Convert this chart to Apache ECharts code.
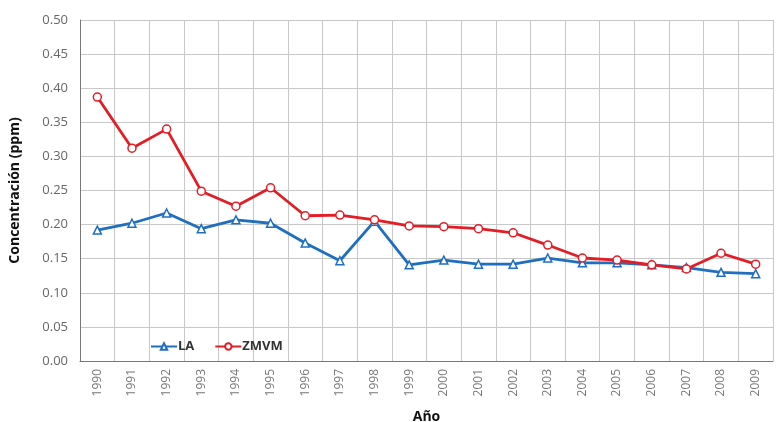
<!DOCTYPE html>
<html>
<head>
<meta charset="utf-8">
<script src="https://cdn.jsdelivr.net/npm/echarts@6/dist/echarts.min.js"></script>
<style>
  html, body { margin: 0; padding: 0; background: #fff; }
  #chart { width: 778px; height: 422px; }
</style>
</head>
<body>
<div id="chart"></div>
<script>
// datos
const years = ["1990", "1991", "1992", "1993", "1994", "1995", "1996", "1997", "1998", "1999",
  "2000", "2001", "2002", "2003", "2004", "2005", "2006", "2007", "2008", "2009"];
const la = [0.192, 0.202, 0.217, 0.194, 0.207, 0.202, 0.173, 0.147, 0.205, 0.141,
  0.148, 0.142, 0.142, 0.151, 0.144, 0.144, 0.141, 0.137, 0.130, 0.128];
const zmvm = [0.387, 0.312, 0.340, 0.249, 0.227, 0.254, 0.213, 0.214, 0.207, 0.198,
  0.197, 0.194, 0.188, 0.170, 0.151, 0.148, 0.141, 0.135, 0.158, 0.142];

const blue = "#1f6fc0";
const red = "#e41c24";
const gridColor = "#c8c8c8";

const chart = echarts.init(document.getElementById("chart"));

chart.setOption({
  animation: false,
  grid: { left: 80, right: 5, top: 20, bottom: 61, outerBoundsMode: "none" },
  legend: {
    left: 145,
    top: 335,
    itemGap: 20,
    itemWidth: 26,
    itemHeight: 8,
    textStyle: { fontFamily: "Open Sans", fontSize: 13, fontWeight: "bold", color: "#333", padding: [0, 0, 0, -4] },
    data: ["LA", "ZMVM"]
  },
  xAxis: {
    type: "category",
    data: years,
    boundaryGap: true,
    name: "Año",
    nameLocation: "middle",
    nameGap: 49,
    nameTextStyle: { fontFamily: "Open Sans", fontSize: 14, fontWeight: "bold", color: "#111" },
    axisLine: { lineStyle: { color: "#777", width: 1 } },
    axisTick: { show: false },
    axisLabel: {
      rotate: 90,
      margin: 8,
      fontFamily: "Open Sans",
      fontSize: 12,
      color: "#777"
    },
    splitLine: { show: true, lineStyle: { color: gridColor, width: 1 } }
  },
  yAxis: {
    type: "value",
    min: 0,
    max: 0.5,
    interval: 0.05,
    name: "Concentración (ppm)",
    nameLocation: "middle",
    nameGap: 58,
    nameTextStyle: { fontFamily: "Open Sans", fontSize: 14, fontWeight: "bold", color: "#111" },
    axisLine: { show: true, lineStyle: { color: "#777", width: 1 } },
    axisTick: { show: false },
    axisLabel: {
      margin: 12,
      fontFamily: "Open Sans",
      fontSize: 13,
      color: "#666",
      formatter: v => v.toFixed(2)
    },
    splitLine: { show: true, lineStyle: { color: gridColor, width: 1 } }
  },
  series: [
    {
      name: "LA",
      type: "line",
      data: la,
      symbol: "triangle",
      symbolSize: 8,
      lineStyle: { color: blue, width: 2.8 },
      itemStyle: { color: "#fff", borderColor: blue, borderWidth: 1.5 }
    },
    {
      name: "ZMVM",
      type: "line",
      data: zmvm,
      symbol: "circle",
      symbolSize: 8,
      lineStyle: { color: red, width: 2.8 },
      itemStyle: { color: "#fff", borderColor: red, borderWidth: 1.5 }
    }
  ]
});
</script>
</body>
</html>
